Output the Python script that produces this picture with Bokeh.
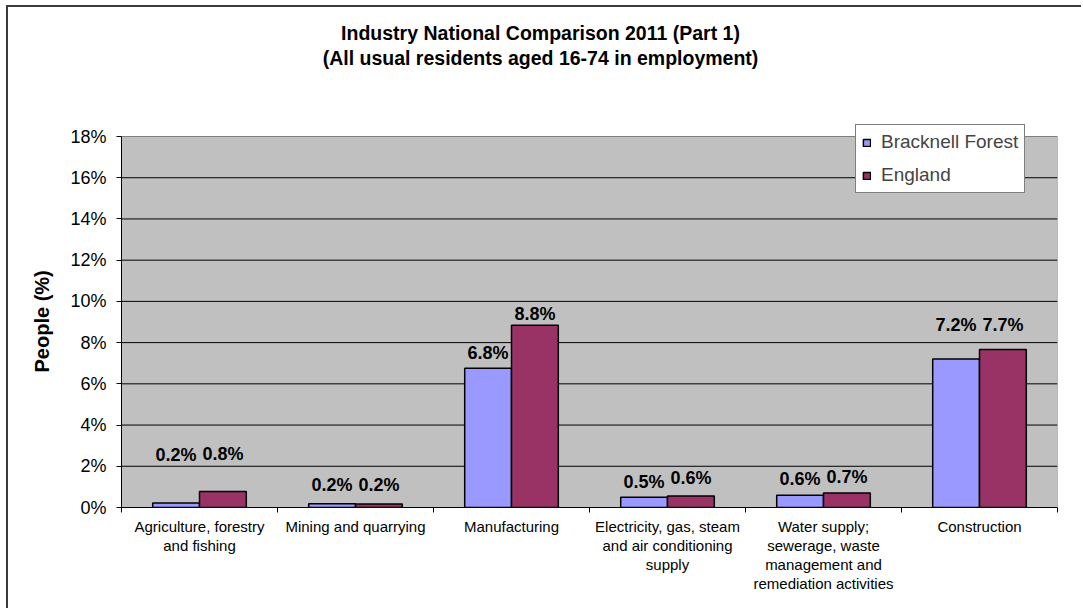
from bokeh.plotting import figure
from bokeh.models import Range1d, FixedTicker, Label, Legend, LegendItem, AllLabels, Title
from bokeh.embed import file_html
from bokeh.resources import INLINE

# ---- data -------------------------------------------------------------
categories = [
    "Agriculture, forestry\nand fishing",
    "Mining and quarrying",
    "Manufacturing",
    "Electricity, gas, steam\nand air conditioning\nsupply",
    "Water supply;\nsewerage, waste\nmanagement and\nremediation activities",
    "Construction",
]
series_names = ["Bracknell Forest", "England"]
bracknell = [0.22, 0.18, 6.76, 0.50, 0.60, 7.21]
england = [0.78, 0.17, 8.84, 0.56, 0.70, 7.67]
y_ticks = [0, 2, 4, 6, 8, 10, 12, 14, 16, 18]
y_tick_labels = ["0%", "2%", "4%", "6%", "8%", "10%", "12%", "14%", "16%", "18%"]
title_lines = ["Industry National Comparison 2011 (Part 1)",
               "(All usual residents aged 16-74 in employment)"]
y_title = "People (%)"

# ---- layout / style ---------------------------------------------------
FONT = "Liberation Sans"
COLORS = ["#9999FF", "#993366"]
BAR_W = 0.3
Y_MAX = y_ticks[-1]
W, H = 1075, 603
LEFT, RIGHT, BOTTOM = 113, 26, 103     # canvas borders around the frame
PLOT_TOP = 129                          # canvas y of the grey plot area's top
FRAME_H = H - BOTTOM                    # frame spans from canvas top
y_end = Y_MAX * FRAME_H / (FRAME_H - PLOT_TOP)
# pixel gap between bar top and its value label (Excel placement)
label_gap = [[48, 19, 15, 15, 16, 34], [37, 19, 11, 18, 16, 24]]
title_baselines = [25, 50]              # px below canvas top

p = figure(width=W, height=H, title=None, x_range=Range1d(0, len(categories)),
           y_range=Range1d(0, y_end), output_backend="svg", toolbar_location=None,
           min_border_left=LEFT, min_border_right=RIGHT, min_border_top=0,
           min_border_bottom=BOTTOM)
p.styles = {"margin-left": "6px", "margin-top": "5px",
            "border-left": "2px solid #3c3c3c", "border-top": "2px solid #3c3c3c"}
p.background_fill_color = "white"
p.border_fill_color = "white"
p.outline_line_color = None
p.xgrid.visible = False
p.ygrid.visible = False

# y axis
p.yaxis.bounds = (0, Y_MAX)
p.yaxis.ticker = FixedTicker(ticks=y_ticks)
p.yaxis.major_label_overrides = {t: l for t, l in zip(y_ticks, y_tick_labels)}
p.yaxis.major_label_text_font = FONT
p.yaxis.major_label_text_font_size = "18px"
p.yaxis.major_label_text_color = "black"
p.yaxis.major_label_standoff = 10
p.yaxis.major_tick_out = 5
p.yaxis.major_tick_in = 0
p.yaxis.minor_tick_line_color = None
p.yaxis.axis_line_color = "black"
p.yaxis.major_tick_line_color = "black"

# y-axis title, centred on the grey plot area (start offset from frame bottom)
p.add_layout(Title(text=y_title, align="left", offset=135, vertical_align="bottom",
                   standoff=30, text_font=FONT, text_font_style="bold",
                   text_font_size="20px", text_color="black"), "left")

# x axis: labels at category centres, tick marks at category boundaries
centers = [i + 0.5 for i in range(len(categories))]
bounds = list(range(len(categories) + 1))
p.xaxis.ticker = FixedTicker(ticks=centers, minor_ticks=bounds)
p.xaxis.major_label_overrides = {c: lab for c, lab in zip(centers, categories)}
p.xaxis.major_label_policy = AllLabels()
p.xaxis.major_label_text_font = FONT
p.xaxis.major_label_text_font_size = "15px"
p.xaxis.major_label_text_line_height = 1.12
p.xaxis.major_label_text_color = "black"
p.xaxis.major_label_standoff = 5
p.xaxis.major_tick_out = 0
p.xaxis.major_tick_in = 0
p.xaxis.major_tick_line_color = None
p.xaxis.minor_tick_out = 5
p.xaxis.minor_tick_in = 0
p.xaxis.minor_tick_line_color = "black"
p.xaxis.axis_line_color = "black"

# grey plot area and gridlines
p.quad(left=0, right=len(categories), bottom=0, top=Y_MAX,
       fill_color="#C0C0C0", line_color="#808080", line_width=1)
grid_y = y_ticks[1:-1]
p.segment(x0=[0] * len(grid_y), y0=grid_y, x1=[len(categories)] * len(grid_y),
          y1=grid_y, line_color="black", line_width=1)

# bars + value labels
renderers = []
for s, vals in enumerate([bracknell, england]):
    xs = [c + (s - 0.5) * BAR_W for c in centers]
    r = p.vbar(x=xs, top=vals, bottom=0, width=BAR_W, fill_color=COLORS[s],
               line_color="black", line_width=1.5)
    renderers.append(r)
    for i, (x, v) in enumerate(zip(xs, vals)):
        p.add_layout(Label(x=x, y=v, y_offset=label_gap[s][i], text=f"{v:.1f}%",
                           text_align="center", text_baseline="alphabetic",
                           text_font=FONT, text_font_style="bold",
                           text_font_size="18px", text_color="black"))

# chart title (two lines), frame-relative screen units
for line, base in zip(title_lines, title_baselines):
    p.add_layout(Label(x=419, y=FRAME_H - base, x_units="screen", y_units="screen",
                       text=line, text_align="center", text_baseline="alphabetic",
                       text_font=FONT, text_font_style="bold", text_font_size="19.5px",
                       text_color="black"))

legend = Legend(items=[LegendItem(label=n, renderers=[r]) for n, r in zip(series_names, renderers)],
                location=(734, 314), margin=0, padding=6, spacing=11,
                glyph_width=9, glyph_height=9, label_height=20, label_standoff=10,
                label_text_font=FONT, label_text_font_size="19px",
                border_line_color="black", border_line_width=1,
                background_fill_color="white", background_fill_alpha=1.0)
p.add_layout(legend)

open("out.html", "w").write(file_html(p, INLINE))
